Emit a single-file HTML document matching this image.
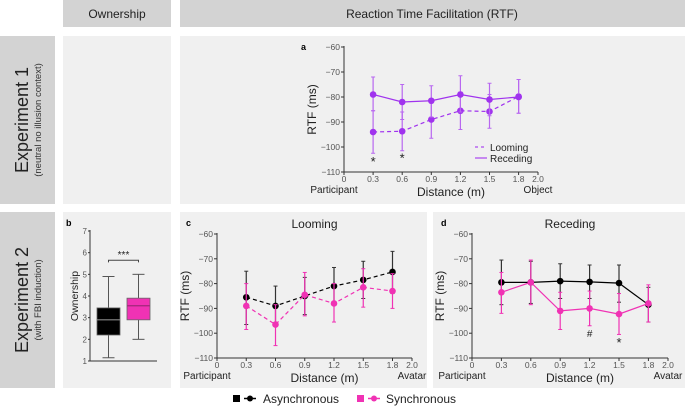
<!DOCTYPE html>
<html><head><meta charset="utf-8"><style>
body{margin:0;width:685px;height:408px;background:#fff;overflow:hidden;font-family:"Liberation Sans",Arial,sans-serif}
svg{display:block}
</style></head><body>
<svg id="fig" width="685" height="408" viewBox="0 0 685 408" font-family="Liberation Sans, Arial, sans-serif">
<rect x="63" y="0" width="108" height="27" fill="#d3d3d3"/>
<text x="117" y="18" font-size="12" text-anchor="middle" fill="#222">Ownership</text>
<rect x="180" y="0" width="505" height="27" fill="#d3d3d3"/>
<text x="432" y="18" font-size="12" text-anchor="middle" fill="#222">Reaction Time Facilitation (RTF)</text>
<rect x="0" y="36" width="55" height="168" fill="#d3d3d3"/>
<text transform="translate(28,120) rotate(-90)" font-size="18" text-anchor="middle" fill="#222">Experiment 1</text>
<text transform="translate(41,120) rotate(-90)" font-size="9.5" text-anchor="middle" fill="#333">(neutral no illusion context)</text>
<rect x="63" y="36" width="108" height="168" fill="#f0f0f0"/>
<rect x="180" y="36" width="505" height="168" fill="#f0f0f0"/>
<rect x="0" y="212" width="55" height="176" fill="#d3d3d3"/>
<text transform="translate(28,300) rotate(-90)" font-size="18" text-anchor="middle" fill="#222">Experiment 2</text>
<text transform="translate(41,300) rotate(-90)" font-size="9.5" text-anchor="middle" fill="#333">(with FBI induction)</text>
<rect x="63" y="212" width="108" height="176" fill="#f0f0f0"/>
<rect x="180" y="212" width="247" height="176" fill="#f0f0f0"/>
<rect x="433" y="212" width="252" height="176" fill="#f0f0f0"/>
<g id="plots"></g>
<g>
<rect x="233" y="395" width="7" height="7" fill="#000"/>
<line x1="244" y1="398.5" x2="256" y2="398.5" stroke="#000" stroke-width="1.5"/>
<circle cx="250" cy="398.5" r="3" fill="#000"/>
<text x="263" y="403" font-size="12" fill="#222">Asynchronous</text>
<rect x="357" y="395" width="7" height="7" fill="#f032b4"/>
<line x1="368" y1="398.5" x2="380" y2="398.5" stroke="#f032b4" stroke-width="1.5"/>
<circle cx="374" cy="398.5" r="3" fill="#f032b4"/>
<text x="386" y="403" font-size="12" fill="#222">Synchronous</text>
</g>
</svg>
<script>
const distances=[0.3,0.6,0.9,1.2,1.5,1.8];
const xTicks=[0,0.3,0.6,0.9,1.2,1.5,1.8,2.0];
const xTickLabels=["0","0.3","0.6","0.9","1.2","1.5","1.8","2.0"];
const yTicks=[-60,-70,-80,-90,-100,-110];
const aReceding=[-79,-82,-81.5,-79,-81,-80];
const aRecedingLo=[-85.5,-89,-88,-86,-87.5,-86.5];
const aRecedingHi=[-72,-75,-75.5,-71.5,-74.5,-73];
const aLooming=[-94,-93.7,-89,-85.5,-85.8,-79.8];
const aLoomingLo=[-102.5,-101.5,-96.5,-93,-92.5,-86.5];
const aLoomingHi=[-85.5,-86,-81.5,-78,-79,-73];
const cAsync=[-85.5,-89,-85,-81,-78.5,-75.3];
const cAsyncLo=[-96.5,-97,-92.5,-88.5,-86,-84];
const cAsyncHi=[-75,-81,-77.5,-73.5,-71,-67];
const cSync=[-89,-96.5,-84.5,-88,-81.5,-83];
const cSyncLo=[-98.5,-105,-93,-95.5,-89.5,-90];
const cSyncHi=[-80,-88.5,-75.5,-80,-74,-76];
const dAsync=[-79.5,-79.5,-79,-79.3,-79.8,-88.5];
const dAsyncLo=[-88.5,-88,-86,-86,-87.5,-95.5];
const dAsyncHi=[-70.5,-71,-72,-72.5,-72.5,-81.5];
const dSync=[-83.5,-79.5,-91,-90,-92.3,-88];
const dSyncLo=[-92,-88.5,-98.5,-97,-100.5,-95.5];
const dSyncHi=[-75.5,-70.5,-83.5,-83,-84,-80.5];
const boxGroups=["Asynchronous","Synchronous"];
const boxMin=[1.15,2.0];
const boxQ1=[2.2,2.9];
const boxMed=[2.9,3.55];
const boxQ3=[3.45,3.9];
const boxMax=[4.9,5.0];
const boxTicks=[1,2,3,4,5,6,7];

const NS="http://www.w3.org/2000/svg";
const root=document.getElementById('plots');
function mk(tag,attrs,parent,text){const e=document.createElementNS(NS,tag);for(const k in attrs)e.setAttribute(k,attrs[k]);if(text!==undefined)e.textContent=text;(parent||root).appendChild(e);return e;}

function linePanel(o){
  const sx=v=>o.x0+(v-0)/2*(o.x1-o.x0);
  const sy=v=>o.y0+(-60-v)/50*(o.y1-o.y0);
  const g=mk('g',{});
  
  
  let ax=mk('line',{x1:o.x0,y1:o.y0-1,x2:o.x0,y2:o.y1,stroke:'#333','stroke-width':1},g);
  
  ax=mk('line',{x1:o.x0,y1:o.y1,x2:o.x1,y2:o.y1,stroke:'#333','stroke-width':1},g);
  
  yTicks.forEach(t=>{const y=sy(t);
    mk('line',{x1:o.x0-3,y1:y,x2:o.x0,y2:y,stroke:'#333'},g);
    const tx=mk('text',{x:o.x0-4,y:y+3,'font-size':8.5,'text-anchor':'end',fill:'#555'},g,'\u2212'+Math.abs(t));
    });
  xTicks.forEach((t,i)=>{const x=sx(t);
    mk('line',{x1:x,y1:o.y1,x2:x,y2:o.y1+3,stroke:'#333'},g);
    const tx=mk('text',{x:x,y:o.y1+10,'font-size':8.5,'text-anchor':'middle',fill:'#555'},g,xTickLabels[i]);
    });
  let t=mk('text',{x:o.x0-10,y:o.y1+21,'font-size':10,'text-anchor':'middle',fill:'#222'},g,'Participant');
  
  t=mk('text',{x:o.x1,y:o.y1+21,'font-size':10,'text-anchor':'middle',fill:'#222'},g,o.endLabel);
  
  t=mk('text',{x:(o.x0+o.x1)/2+10,y:o.y1+24,'font-size':12,'text-anchor':'middle',fill:'#222'},g,'Distance (m)');
  
  t=mk('text',{transform:`translate(${o.x0-28},${(o.y0+o.y1)/2}) rotate(-90)`,'font-size':12,'text-anchor':'middle',fill:'#222'},g,'RTF (ms)');
  
  t=mk('text',{x:o.lx,y:o.ly,'font-size':9,'font-weight':'bold',fill:'#000'},g,o.letter);
  
  if(o.title){t=mk('text',{x:(o.x0+o.x1)/2,y:o.y0-6,'font-size':12,'text-anchor':'middle',fill:'#222'},g,o.title);
    }
  o.series.forEach(s=>{
    const sg=mk('g',{},g);
    
    s.vals.forEach((v,i)=>{const x=sx(distances[i]);
      const e=mk('line',{x1:x,y1:sy(s.lo[i]),x2:x,y2:sy(s.hi[i]),stroke:s.ec,'stroke-width':1.2},sg);
      
      mk('line',{x1:x-2,y1:sy(s.lo[i]),x2:x+2,y2:sy(s.lo[i]),stroke:s.ec,'stroke-width':1},sg);
      mk('line',{x1:x-2,y1:sy(s.hi[i]),x2:x+2,y2:sy(s.hi[i]),stroke:s.ec,'stroke-width':1},sg);});
    const pts=s.vals.map((v,i)=>sx(distances[i])+','+sy(v)).join(' ');
    const pl=mk('polyline',{points:pts,fill:'none',stroke:s.color,'stroke-width':1.2,'stroke-dasharray':s.dash||'none'},sg);
    
    s.vals.forEach((v,i)=>{const c=mk('circle',{cx:sx(distances[i]),cy:sy(v),r:3.3,fill:s.color},sg);
      });
  });
  (o.marks||[]).forEach(m=>{const tx=mk('text',{x:sx(m.x),y:sy(m.y)+4,'font-size':m.s||11,'text-anchor':'middle',fill:'#222'},g,m.t);
    });
  return g;
}
const PUR='#a033ee', PURE='#b867f0', PNK='#f032b4', BLK='#000';
linePanel({name:'panel-a-chart',x0:344,x1:538,y0:47,y1:172,endLabel:'Object',letter:'a',lx:301,ly:50,
  series:[{name:'looming-series',vals:aLooming,lo:aLoomingLo,hi:aLoomingHi,color:PUR,ec:PURE,dash:'4,3'},
          {name:'receding-series',vals:aReceding,lo:aRecedingLo,hi:aRecedingHi,color:PUR,ec:PURE}],
  marks:[{x:0.3,y:-106,t:'*',s:13},{x:0.6,y:-104.5,t:'*',s:13}]});
linePanel({name:'panel-c-chart',x0:217,x1:412,y0:234,y1:358,endLabel:'Avatar',letter:'c',lx:186,ly:226,title:'Looming',
  series:[{name:'async-looming-series',vals:cAsync,lo:cAsyncLo,hi:cAsyncHi,color:BLK,ec:'#333',dash:'4,3'},
          {name:'sync-looming-series',vals:cSync,lo:cSyncLo,hi:cSyncHi,color:PNK,ec:PNK,dash:'4,3'}]});
linePanel({name:'panel-d-chart',x0:472,x1:668,y0:234,y1:358,endLabel:'Avatar',letter:'d',lx:441,ly:226,title:'Receding',
  series:[{name:'async-receding-series',vals:dAsync,lo:dAsyncLo,hi:dAsyncHi,color:BLK,ec:'#333'},
          {name:'sync-receding-series',vals:dSync,lo:dSyncLo,hi:dSyncHi,color:PNK,ec:PNK}],
  marks:[{x:1.2,y:-100,t:'#',s:10},{x:1.5,y:-104,t:'*',s:13}]});
(function(){const g=mk('g',{});
  
  mk('line',{x1:475,y1:147,x2:487,y2:147,stroke:PURE,'stroke-width':1.5,'stroke-dasharray':'3,3'},g);
  mk('line',{x1:475,y1:158,x2:487,y2:158,stroke:PURE,'stroke-width':1.5},g);
  let t=mk('text',{x:490,y:151,'font-size':10,fill:'#222'},g,'Looming');
  t=mk('text',{x:490,y:162,'font-size':10,fill:'#222'},g,'Receding');
})();
(function(){
  const x0=90,x1=157,y7=231,y1=361;
  const sy=v=>y1-(v-1)/6*(y1-y7);
  const g=mk('g',{});
  
  mk('line',{x1:x0,y1:y7-1,x2:x0,y2:y1,stroke:'#333'},g);
  mk('line',{x1:x0,y1:y1,x2:x1,y2:y1,stroke:'#333'},g);
  boxTicks.forEach(t=>{const y=sy(t);mk('line',{x1:x0-2,y1:y,x2:x0,y2:y,stroke:'#333'},g);
    const tx=mk('text',{x:x0-3,y:y+3,'font-size':8,'text-anchor':'end',fill:'#555'},g,String(t));
    });
  let t=mk('text',{transform:`translate(78,296) rotate(-90)`,'font-size':10.5,'text-anchor':'middle',fill:'#222'},g,'Ownership');
  
  t=mk('text',{x:66,y:226,'font-size':9,'font-weight':'bold',fill:'#000'},g,'b');
  
  const cols=['#000','#f032b4'], med=['#888','#a0287a'];
  boxGroups.forEach((n,i)=>{const cx=108.5+i*30,w=23;
    const bg=mk('g',{},g);
    
    mk('line',{x1:cx,y1:sy(boxMin[i]),x2:cx,y2:sy(boxMax[i]),stroke:'#555'},bg);
    mk('line',{x1:cx-6,y1:sy(boxMin[i]),x2:cx+6,y2:sy(boxMin[i]),stroke:'#555'},bg);
    mk('line',{x1:cx-6,y1:sy(boxMax[i]),x2:cx+6,y2:sy(boxMax[i]),stroke:'#555'},bg);
    mk('rect',{x:cx-w/2,y:sy(boxQ3[i]),width:w,height:sy(boxQ1[i])-sy(boxQ3[i]),fill:cols[i],stroke:'#666','stroke-width':0.8},bg);
    mk('line',{x1:cx-w/2,y1:sy(boxMed[i]),x2:cx+w/2,y2:sy(boxMed[i]),stroke:med[i],'stroke-width':1.2},bg);
  });
  mk('path',{d:`M108.5 ${sy(5.55)} V${sy(5.65)} H138.5 V${sy(5.55)}`,fill:'none',stroke:'#444'},g);
  t=mk('text',{x:123.5,y:sy(5.75),'font-size':10,'text-anchor':'middle',fill:'#222'},g,'***');
  
})();
</script>
</body></html>
